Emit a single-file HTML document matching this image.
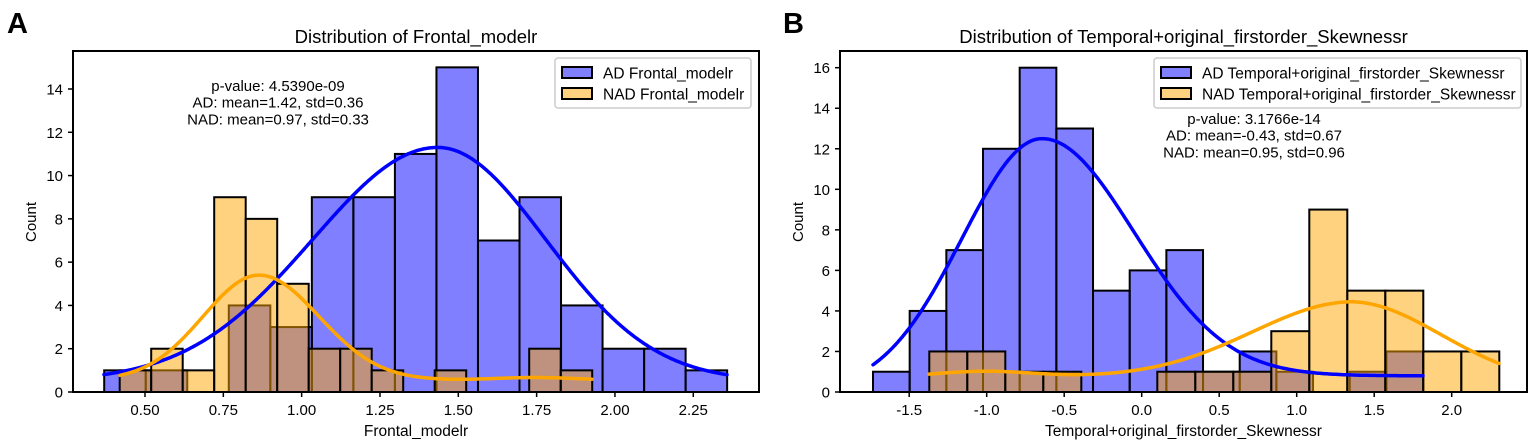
<!DOCTYPE html>
<html><head><meta charset="utf-8"><style>
html,body{margin:0;padding:0;background:#fff;}
svg{display:block;font-family:"Liberation Sans",Arial,sans-serif;}
</style></head><body>
<svg id="s" width="1535" height="445" viewBox="0 0 1535 445" xmlns="http://www.w3.org/2000/svg"></svg>
<script>
const S=document.getElementById('s');let h='';
function g(x,m,s){return Math.exp(-0.5*((x-m)/s)**2);}
function panel(o){
  const {L,R,T,B,upp,x0,ppu}=o;
  const Y=c=>B-c*upp;
  const bars=(start,w,hs,fill)=>{hs.forEach((c,i)=>{if(c<=0)return;const x=start+i*w;
    h+=`<rect x="${x}" y="${Y(c)}" width="${w}" height="${c*upp}" fill="${fill}" fill-opacity="0.5" stroke="#000" stroke-width="2"/>`;});};
  bars(o.adS,o.adW,o.adH,'#0000ff');
  bars(o.nS,o.nW,o.nH,'#ffa500');
  const path=(a,b,f,col)=>{let d='';for(let x=a;x<=b;x+=1){d+=(x==a?'M':'L')+x.toFixed(1)+','+Y(f(x)).toFixed(1);}
    h+=`<path d="${d}" fill="none" stroke="${col}" stroke-width="3.5" stroke-linecap="round"/>`;};
  path(o.bA,o.bB,o.bf,'#0000ff');
  path(o.oA,o.oB,o.of,'#ffa500');
  h+=`<rect x="${L}" y="${T}" width="${R-L}" height="${B-T}" fill="none" stroke="#000" stroke-width="2"/>`;
  o.yt.forEach(c=>{const y=Y(c);h+=`<line x1="${L-5}" y1="${y}" x2="${L}" y2="${y}" stroke="#000" stroke-width="1.5"/><text x="${L-10}" y="${y+5.5}" font-size="15" text-anchor="end">${c}</text>`;});
  o.xt.forEach(([v,l])=>{const x=x0+v*ppu;h+=`<line x1="${x}" y1="${B}" x2="${x}" y2="${B+5}" stroke="#000" stroke-width="1.5"/><text x="${x}" y="${B+23}" font-size="15" text-anchor="middle">${l}</text>`;});
  const cx=(L+R)/2;
  h+=`<text x="${cx}" y="43" font-size="18.5" text-anchor="middle">${o.title}</text>`;
  h+=`<text x="${cx}" y="436" font-size="15.5" text-anchor="middle">${o.xl}</text>`;
  h+=`<text transform="translate(${o.cX},222) rotate(-90)" font-size="15" text-anchor="middle">Count</text>`;
  h+=`<text x="${o.lX}" y="33" font-size="29" font-weight="bold">${o.let}</text>`;
  const [lx,ly,lw,lh]=o.leg;
  h+=`<rect x="${lx}" y="${ly}" width="${lw}" height="${lh}" rx="3" fill="#fff" fill-opacity="0.8" stroke="#ccc" stroke-width="1.5"/>`;
  [[o.l1,'#8080ff'],[o.l2,'#ffd280']].forEach(([t,c],i)=>{const yy=ly+9+i*21;
    h+=`<rect x="${lx+7}" y="${yy}" width="30" height="11" fill="${c}" stroke="#000" stroke-width="2"/><text x="${lx+48}" y="${yy+11.5}" font-size="15.5">${t}</text>`;});
  o.ann.forEach((t,i)=>{h+=`<text x="${o.aX}" y="${o.aY+i*16.7}" font-size="15" text-anchor="middle">${t}</text>`;});
}
const upA=(392-89)/14;
panel({L:73,R:759,T:51,B:392,upp:upA,x0:145-0.5*313.3,ppu:313.3,
 adS:104.2,adW:41.53,adH:[1,1,0,4,3,9,9,11,15,7,9,4,2,2,1],
 nS:119.7,nW:31.5,nH:[1,2,1,9,8,5,2,2,1,0,1,0,0,2,1],
 bA:104,bB:727,bf:x=>0.5+10.8*(x<437.7?g(x,437.7,125):g(x,437.7,108)),
 oA:120,oB:592,of:x=>0.55+4.85*(x<259?g(x,259,56):g(x,259,60))+0.12*g(x,535,40),
 yt:[0,2,4,6,8,10,12,14],xt:[[0.5,'0.50'],[0.75,'0.75'],[1,'1.00'],[1.25,'1.25'],[1.5,'1.50'],[1.75,'1.75'],[2,'2.00'],[2.25,'2.25']],
 title:'Distribution of Frontal_modelr',xl:'Frontal_modelr',cX:36,lX:7,let:'A',
 leg:[555,58,196,50],l1:'AD Frontal_modelr',l2:'NAD Frontal_modelr',
 ann:['p-value: 4.5390e-09','AD: mean=1.42, std=0.36','NAD: mean=0.97, std=0.33'],aX:278,aY:91});
const upB=(392-67.7)/16;
panel({L:840,R:1527,T:51,B:392,upp:upB,x0:1141.7,ppu:155,
 adS:873,adW:36.67,adH:[1,4,7,12,16,13,5,6,7,1,2,1,0,1,2],
 nS:929.3,nW:38,nH:[2,2,1,1,0,0,1,1,1,3,9,5,5,2,2],
 bA:873,bB:1423,bf:x=>(x<1042?12.5*g(x,1042,80):0.8+11.7*g(x,1042,92)),
 oA:929,oB:1499,of:x=>0.72+(x<1353?3.73*g(x,1353,100):3.73*g(x,1353,88))+0.3*g(x,985,50)-(x>1353?0.25*(x-1353)/146:0),
 yt:[0,2,4,6,8,10,12,14,16],xt:[[-1.5,'-1.5'],[-1,'-1.0'],[-0.5,'-0.5'],[0,'0.0'],[0.5,'0.5'],[1,'1.0'],[1.5,'1.5'],[2,'2.0']],
 title:'Distribution of Temporal+original_firstorder_Skewnessr',xl:'Temporal+original_firstorder_Skewnessr',cX:803,lX:783,let:'B',
 leg:[1154,58,367,50],l1:'AD Temporal+original_firstorder_Skewnessr',l2:'NAD Temporal+original_firstorder_Skewnessr',
 ann:['p-value: 3.1766e-14','AD: mean=-0.43, std=0.67','NAD: mean=0.95, std=0.96'],aX:1254,aY:124});
S.innerHTML=h;
</script>
</body></html>
